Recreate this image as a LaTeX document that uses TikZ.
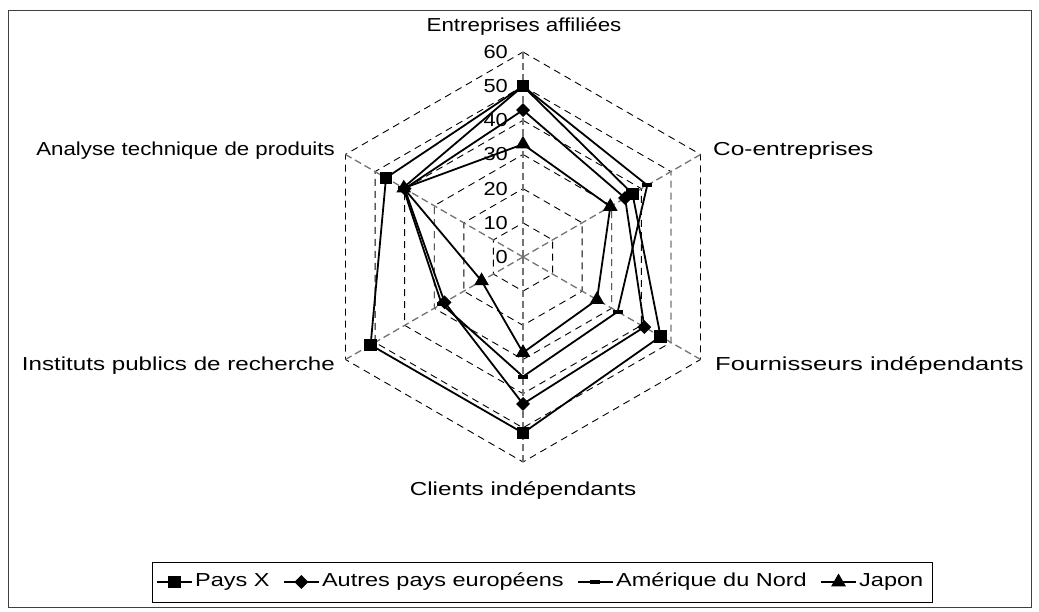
\documentclass[tikz,border=0pt]{standalone}
\usepackage{fontspec}
\setmainfont{Liberation Sans}
\usetikzlibrary{calc,shapes.geometric}
% labels in the chart are set wide; the factor is given per label
\newcommand\wide[1]{\scalebox{1.16}[1]{#1}}
\newcommand\widen[2]{\scalebox{#1}[1]{#2}}
\begin{document}
\begin{tikzpicture}[x=1pt,y=-1pt,
  lbl/.style={font=\fontsize{18.8}{22}\selectfont, inner sep=0pt},
  frame/.style={draw=black!75, line width=1pt},
  ring/.style={draw=black, line width=0.9pt, dash pattern=on 7pt off 5pt},
  spoke/.style={draw=black!55, line width=1.3pt, dash pattern=on 7pt off 4pt},
  series/.style={draw=black, line width=1.8pt, line join=miter},
  sqmark/.style={fill=black, rectangle, minimum size=12.5pt, inner sep=0pt},
  dimark/.style={fill=black, diamond, minimum size=14pt, inner sep=0pt},
  dashmark/.style={fill=black, rectangle, minimum width=10pt, minimum height=4pt, inner sep=0pt},
  trimark/.style={fill=black, regular polygon, regular polygon sides=3, minimum size=17pt, inner sep=0pt},
]
\useasboundingbox (0,0) rectangle (1039,612);
\fill[white] (0,0) rectangle (1039,612);
\draw[frame] (8,11) rectangle (1031,607);

% radar grid, series and markers (one unit = one point of the value axis)
\begin{scope}[shift={(523,257)}, x=3.41667pt, y=3.41667pt]
  \foreach \k in {10,20,...,60}
    \draw[ring] (90:\k) -- (30:\k) -- (-30:\k) -- (-90:\k) -- (-150:\k) -- (150:\k) -- cycle;
  \foreach \a in {90,30,-30,-90,-150,150}
    \draw[spoke] (0,0) -- (\a:60);
  \foreach \k in {0,10,...,60}
    \node[lbl, anchor=east] (v\k) at ($(90:\k)+(-4.4,0)$) {\wide{\k}};

  % Pays X
  \coordinate (p1) at (90:50);   \coordinate (p2) at (30:37);
  \coordinate (p3) at (-30:46.5);\coordinate (p4) at (-90:51.5);
  \coordinate (p5) at (-150:51.5);\coordinate (p6) at (150:46.3);
  % Autres pays europeens
  \coordinate (e1) at (90:43);   \coordinate (e2) at (30:34.5);
  \coordinate (e3) at (-30:41);  \coordinate (e4) at (-90:43);
  \coordinate (e5) at (-150:26.5);\coordinate (e6) at (150:40);
  % Amerique du Nord
  \coordinate (a1) at (90:50);   \coordinate (a2) at (30:42);
  \coordinate (a3) at (-30:32);  \coordinate (a4) at (-90:35);
  \coordinate (a5) at (-150:27.5);\coordinate (a6) at (150:40.5);
  % Japon
  \coordinate (j1) at (90:33);   \coordinate (j2) at (30:29.5);
  \coordinate (j3) at (-30:25);  \coordinate (j4) at (-90:28);
  \coordinate (j5) at (-150:14); \coordinate (j6) at (150:40.3);

  \draw[series] (p1) -- (p2) -- (p3) -- (p4) -- (p5) -- (p6) -- cycle;
  \foreach \i in {1,...,6} \node[sqmark] (mp\i) at (p\i) {};
  \draw[series] (e1) -- (e2) -- (e3) -- (e4) -- (e5) -- (e6) -- cycle;
  \foreach \i in {1,...,6} \node[dimark] (me\i) at (e\i) {};
  \draw[series] (a1) -- (a2) -- (a3) -- (a4) -- (a5) -- (a6) -- cycle;
  \foreach \i in {1,...,6} \node[dashmark] (ma\i) at (a\i) {};
  \draw[series] (j1) -- (j2) -- (j3) -- (j4) -- (j5) -- (j6) -- cycle;
  \foreach \i in {1,...,6} \node[trimark] (mj\i) at (j\i) {};
\end{scope}

% axis titles
\node[lbl] (t1) at (524,27) {\widen{1.19}{Entreprises affiliées}};
\node[lbl, anchor=west] (t2) at (713,151) {\widen{1.30}{Co-entreprises}};
\node[lbl, anchor=west] (t3) at (715,366) {\widen{1.36}{Fournisseurs indépendants}};
\node[lbl] (t4) at (523,491) {\widen{1.29}{Clients indépendants}};
\node[lbl, anchor=east] (t5) at (335,366) {\widen{1.285}{Instituts publics de recherche}};
\node[lbl, anchor=east] (t6) at (335,151) {\widen{1.185}{Analyse technique de produits}};

% legend
\draw[draw=black, line width=1pt] (152,562) rectangle (932,602);
\coordinate (l1a) at (157,582); \coordinate (l1b) at (192,582);
\draw[series] (l1a) -- (l1b);
\node[sqmark] (k1) at ($(l1a)!0.5!(l1b)$) {};
\node[lbl, anchor=west] (n1) at ($(l1b)+(3,0)$) {\widen{1.25}{Pays X}};
\coordinate (l2a) at ($(n1.east)+(14,0)$); \coordinate (l2b) at ($(l2a)+(35,0)$);
\draw[series] (l2a) -- (l2b);
\node[dimark] (k2) at ($(l2a)!0.5!(l2b)$) {};
\node[lbl, anchor=west] (n2) at ($(l2b)+(3,0)$) {\widen{1.25}{Autres pays européens}};
\coordinate (l3a) at ($(n2.east)+(14,0)$); \coordinate (l3b) at ($(l3a)+(35,0)$);
\draw[series] (l3a) -- (l3b);
\node[dashmark] (k3) at ($(l3a)!0.5!(l3b)$) {};
\node[lbl, anchor=west] (n3) at ($(l3b)+(3,0)$) {\widen{1.25}{Amérique du Nord}};
\coordinate (l4a) at ($(n3.east)+(14,0)$); \coordinate (l4b) at ($(l4a)+(35,0)$);
\draw[series] (l4a) -- (l4b);
\node[trimark] (k4) at ($(l4a)!0.5!(l4b)$) {};
\node[lbl, anchor=west] (n4) at ($(l4b)+(3,0)$) {\widen{1.25}{Japon}};
\end{tikzpicture}
\end{document}
